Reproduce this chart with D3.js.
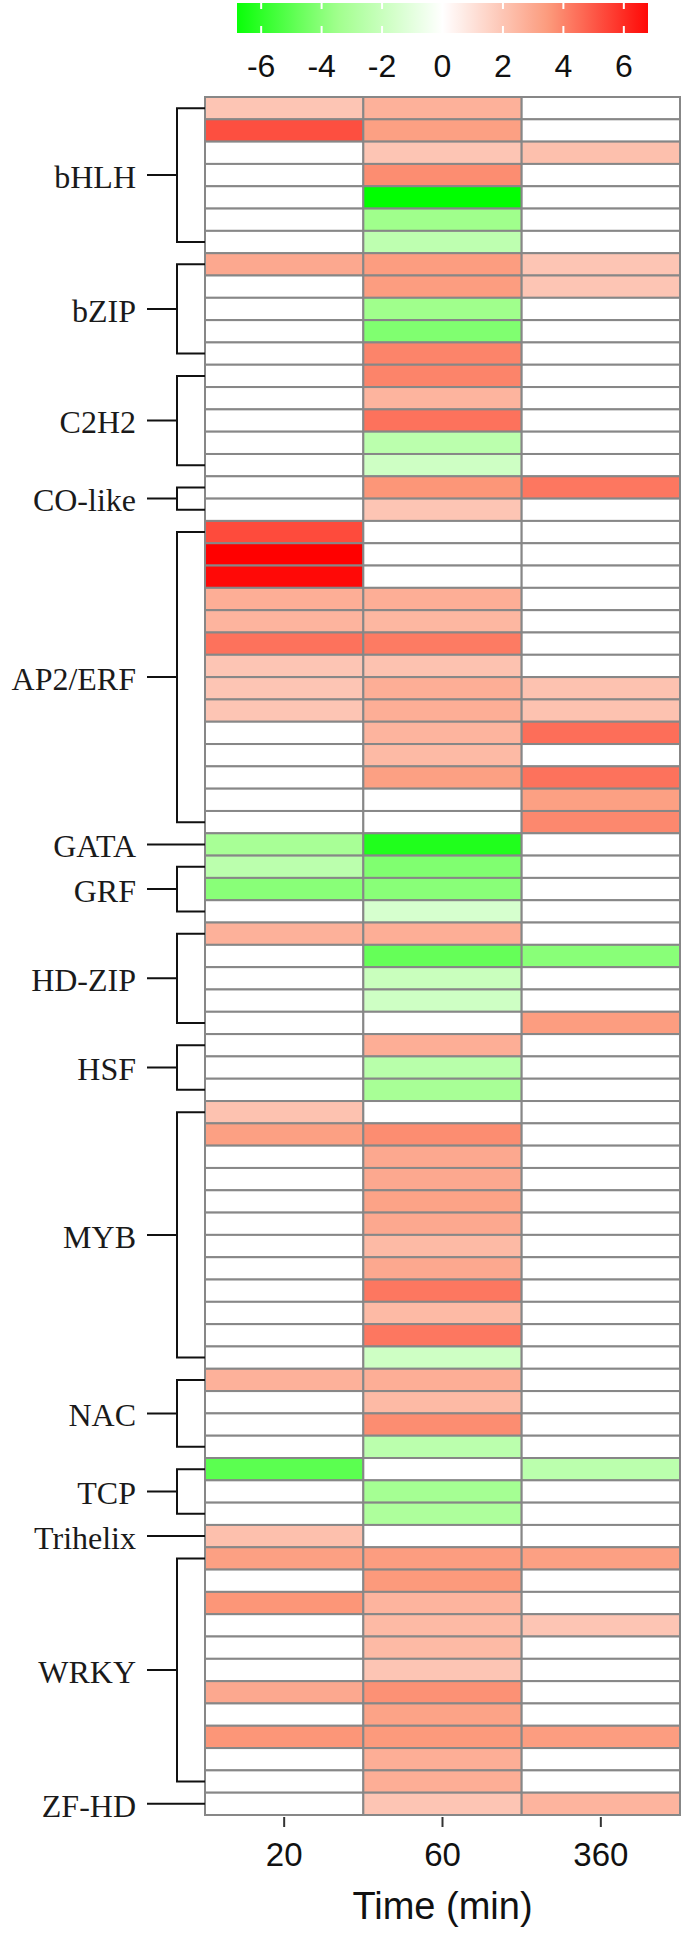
<!DOCTYPE html>
<html>
<head>
<meta charset="utf-8">
<script src="https://cdn.jsdelivr.net/npm/d3@7"></script>
<style>
  body { margin: 0; background: #fff; }
</style>
</head>
<body>
<script>

// time points (columns)
var time_points = ["20", "60", "360"];

// TF families, top to bottom, and how many genes (rows) each has
var families = ["bHLH", "bZIP", "C2H2", "CO-like", "AP2/ERF", "GATA", "GRF", "HD-ZIP",
                "HSF", "MYB", "NAC", "TCP", "Trihelix", "WRKY", "ZF-HD"];
var family_sizes = [7, 5, 5, 2, 14, 1, 3, 5, 3, 12, 4, 3, 1, 11, 1];

// log2 fold change per row, one array per time point (0 = not significant)
var fc_20 = [2.0, 5.2, 0, 0, 0, 0, 0,
             3.0, 0, 0, 0, 0,
             0, 0, 0, 0, 0,
             0, 0,
             5.3, 7.0, 6.8, 2.8, 2.6, 4.4, 2.0, 2.0, 2.0, 0, 0, 0, 0, 0,
             -3.2,
             -2.5, -4.0, 0,
             2.7, 0, 0, 0, 0,
             0, 0, 0,
             2.1, 3.3, 0, 0, 0, 0, 0, 0, 0, 0, 0, 0,
             2.7, 0, 0, 0,
             -5.0, 0, 0,
             2.2,
             3.3, 0, 3.6, 0, 0, 0, 3.0, 0, 3.6, 0, 0,
             0];
var fc_60 = [2.7, 3.3, 2.0, 3.8, -7.0, -3.5, -2.4,
             3.4, 3.4, -3.5, -4.2, 4.0,
             4.0, 2.6, 4.4, -2.5, -1.8,
             3.6, 2.0,
             0, 0, 0, 2.8, 2.5, 4.2, 2.1, 2.8, 2.8, 2.6, 2.4, 3.3, 0, 0,
             -6.3,
             -4.2, -4.0, -1.5,
             2.8, -4.8, -2.0, -1.8, 0,
             2.8, -2.6, -3.2,
             0, 3.8, 3.0, 3.0, 3.2, 3.0, 2.4, 3.0, 4.3, 2.4, 4.3, -1.8,
             2.8, 2.4, 3.8, -2.5,
             0, -3.3, -3.0,
             0,
             3.4, 3.5, 2.6, 2.4, 2.4, 2.0, 3.7, 3.2, 3.5, 2.8, 2.8,
             2.0];
var fc_360 = [0, 0, 2.2, 0, 0, 0, 0,
              2.0, 2.0, 0, 0, 0,
              0, 0, 0, 0, 0,
              4.3, 0,
              0, 0, 0, 0, 0, 0, 0, 2.1, 2.1, 4.5, 0, 4.4, 3.3, 3.9,
              0,
              0, 0, 0,
              0, -4.0, 0, 0, 3.4,
              0, 0, 0,
              0, 0, 0, 0, 0, 0, 0, 0, 0, 0, 0, 0,
              0, 0, 0, 0,
              -2.5, 0, 0,
              0,
              3.3, 0, 0, 2.0, 0, 0, 0, 0, 3.4, 0, 0,
              2.6];

// colour key
var legend_ticks = [-6, -4, -2, 0, 2, 4, 6];
var legend_range = [-6.8, 6.8];

var w = 685, h = 1935;

var svg = d3.select("body")
            .append("svg")
            .attr("width", w)
            .attr("height", h);

var n_rows = fc_20.length;

// scales
var x = d3.scaleBand().domain(time_points).range([205, 680]);
var y = d3.scaleBand().domain(d3.range(n_rows)).range([97, 1815]);
var color = d3.scaleLinear()
              .domain([-7, -3.5, 0, 3.5, 7])
              .range(["#00ff00", "#a0ff8c", "#ffffff", "#fc9a7c", "#ff0000"]);

////////////////////////////////////////
// heatmap cells
var cols = [fc_20, fc_60, fc_360];
var cells = [];
time_points.forEach(function(t, j){
  cols[j].forEach(function(v, i){
    cells.push({t: t, row: i, v: v});
  });
});

svg.append("g").selectAll("rect")
    .data(cells)
    .join("rect")
    .attr("x", function(d){ return x(d.t); })
    .attr("y", function(d){ return y(d.row); })
    .attr("width", x.bandwidth())
    .attr("height", y.bandwidth())
    .attr("fill", function(d){ return color(d.v); })
    .attr("stroke", "#878787")
    .attr("stroke-width", 2);

////////////////////////////////////////
// family brackets + labels
var brk_x = 177, tick_x0 = 147, cell_x0 = x.range()[0];
var g_fam = svg.append("g");
var start = 0;
families.forEach(function(name, k){
  var n = family_sizes[k];
  var y0 = y(start) + y.bandwidth()/2;
  var y1 = y(start + n - 1) + y.bandwidth()/2;
  var ym = (y0 + y1)/2;
  var p = d3.path();
  if (n > 1){
    p.moveTo(cell_x0, y0); p.lineTo(brk_x, y0); p.lineTo(brk_x, y1); p.lineTo(cell_x0, y1);
    p.moveTo(tick_x0, ym); p.lineTo(brk_x, ym);
  } else {
    p.moveTo(tick_x0, ym); p.lineTo(cell_x0, ym);
  }
  g_fam.append("path")
      .attr("d", p.toString())
      .attr("fill", "none")
      .attr("stroke", "#111")
      .attr("stroke-width", 2);
  g_fam.append("text")
      .attr("x", 136)
      .attr("y", ym)
      .attr("dy", "0.4em")
      .attr("text-anchor", "end")
      .style("font-family", "'Liberation Serif', 'Times New Roman', serif")
      .style("font-size", "32px")
      .style("fill", "#1a1a1a")
      .text(name);
  start += n;
});

////////////////////////////////////////
// colour key at top
var lx = d3.scaleLinear().domain(legend_range).range([237, 648]);
var grad = svg.append("defs").append("linearGradient").attr("id", "key_grad");
d3.range(legend_range[0], legend_range[1] + 0.01, 0.2).forEach(function(v){
  grad.append("stop")
      .attr("offset", (lx(v) - lx.range()[0]) / (lx.range()[1] - lx.range()[0]))
      .attr("stop-color", color(v));
});
svg.append("rect")
    .attr("x", lx(legend_range[0]))
    .attr("y", 3)
    .attr("width", lx(legend_range[1]) - lx(legend_range[0]))
    .attr("height", 30)
    .attr("fill", "url(#key_grad)");

// little white notches at each tick
var key_g = svg.append("g");
legend_ticks.forEach(function(t){
  key_g.append("line").attr("x1", lx(t)).attr("x2", lx(t)).attr("y1", 3).attr("y2", 9)
      .attr("stroke", "#fff").attr("stroke-width", 2);
  key_g.append("line").attr("x1", lx(t)).attr("x2", lx(t)).attr("y1", 26).attr("y2", 33)
      .attr("stroke", "#fff").attr("stroke-width", 2);
  key_g.append("text")
      .attr("x", lx(t))
      .attr("y", 77)
      .attr("text-anchor", "middle")
      .style("font-family", "'Liberation Sans', Arial, sans-serif")
      .style("font-size", "32px")
      .style("fill", "#111")
      .text(String(t));
});

////////////////////////////////////////
// time axis
var x_axis = svg.append("g")
    .attr("transform", "translate(0," + 1817 + ")")
    .call(d3.axisBottom(x).tickSize(10).tickPadding(16));
x_axis.select(".domain").remove();
x_axis.selectAll(".tick line").attr("stroke", "#333").attr("stroke-width", 2);
x_axis.selectAll(".tick text")
    .style("font-family", "'Liberation Sans', Arial, sans-serif")
    .style("font-size", "33px")
    .style("fill", "#111");

svg.append("text")
    .attr("x", (x.range()[0] + x.range()[1])/2)
    .attr("y", 1919)
    .attr("text-anchor", "middle")
    .style("font-family", "'Liberation Sans', Arial, sans-serif")
    .style("font-size", "38px")
    .style("fill", "#111")
    .text("Time (min)");

</script>
</body>
</html>
